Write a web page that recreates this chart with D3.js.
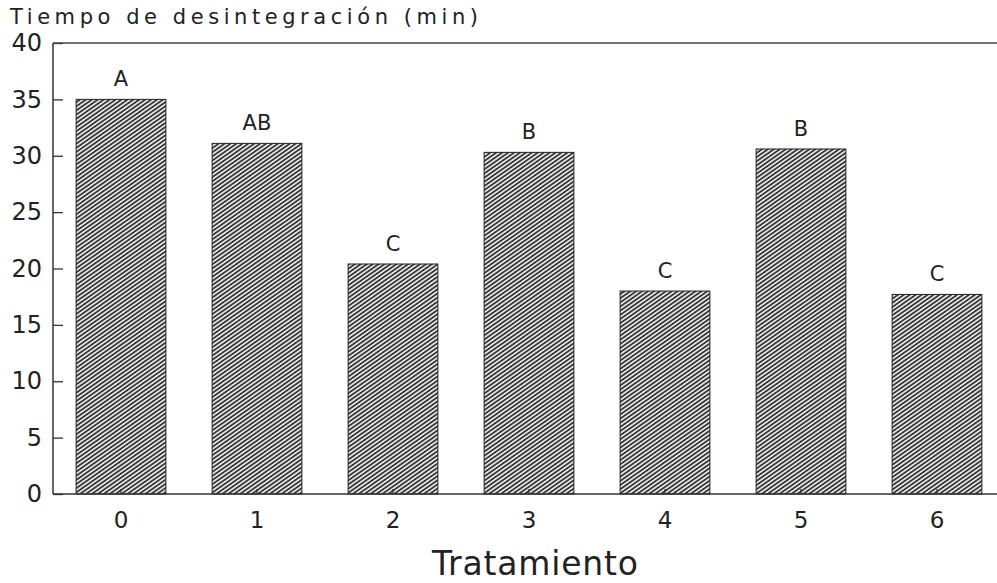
<!DOCTYPE html>
<html>
<head>
<meta charset="utf-8">
<script src="https://cdn.jsdelivr.net/npm/d3@7"></script>
<style>
  body { margin: 0; background: #fff; }
  svg { display: block; }
  text { font-family: "DejaVu Sans", "Liberation Sans", Arial, sans-serif; fill: #222; }
</style>
</head>
<body>
<div id="chart"></div>
<script>
// data
const tratamientos = ["0", "1", "2", "3", "4", "5", "6"];
const tiempos = [35.0, 31.1, 20.4, 30.3, 18.0, 30.6, 17.7];
const letras = ["A", "AB", "C", "B", "C", "B", "C"];
const yTicks = [0, 5, 10, 15, 20, 25, 30, 35, 40];

const width = 997;
const height = 583;
const margin = { top: 43, left: 53, right: 0, bottom: 89 };
const fontFam = "DejaVu Sans, Liberation Sans, Arial, sans-serif";

const svg = d3.select("#chart")
    .append("svg")
    .attr("width", width)
    .attr("height", height);

// hatch pattern for the bars
const defs = svg.append("defs");
const pattern = defs.append("pattern")
    .attr("id", "hatch")
    .attr("patternUnits", "userSpaceOnUse")
    .attr("width", 3.4)
    .attr("height", 3.4)
    .attr("patternTransform", "rotate(-35)");
pattern.append("rect")
    .attr("width", 3.4)
    .attr("height", 3.4)
    .attr("fill", "#e4e4e4");
pattern.append("line")
    .attr("x1", 0).attr("y1", 1.7)
    .attr("x2", 3.4).attr("y2", 1.7)
    .attr("stroke", "#2a2a2a")
    .attr("stroke-width", 1.6);

//scales
const xScale = d3.scaleBand()
    .domain(tratamientos)
    .range([margin.left, margin.left + 7 * 136])
    .paddingInner(0.34)
    .paddingOuter(0.17);

const yScale = d3.scaleLinear()
    .domain([0, 40])
    .range([height - margin.bottom, margin.top]);

// bars
svg.selectAll(".bar")
    .data(tiempos)
    .enter()
    .append("rect")
    .attr("class", "bar")
    .attr("x", (d, i) => xScale(tratamientos[i]))
    .attr("y", d => yScale(d))
    .attr("width", xScale.bandwidth())
    .attr("height", d => yScale(0) - yScale(d))
    .attr("fill", "url(#hatch)")
    .attr("stroke", "#222")
    .attr("stroke-width", 1);

// significance letters
svg.selectAll(".letra")
    .data(tiempos)
    .enter()
    .append("text")
    .attr("class", "letra")
    .attr("x", (d, i) => xScale(tratamientos[i]) + xScale.bandwidth() / 2)
    .attr("y", d => yScale(d) - 13)
    .attr("text-anchor", "middle")
    .attr("font-size", 21)
    .text((d, i) => letras[i]);

// axes
const yAxis = svg.append("g")
    .attr("transform", `translate(${margin.left},0)`)
    .call(d3.axisLeft(yScale).tickValues(yTicks).tickSizeInner(-10).tickSizeOuter(0).tickPadding(11));

const xAxis = svg.append("g")
    .attr("transform", `translate(0,${height - margin.bottom})`)
    .call(d3.axisBottom(xScale).tickSizeInner(-5).tickSizeOuter(0).tickPadding(18));

svg.selectAll(".domain").remove();
svg.selectAll(".tick line").attr("stroke", "#333").attr("stroke-width", 1.3);
yAxis.selectAll("text").attr("font-size", 24).attr("fill", "#222").attr("font-family", fontFam);
xAxis.selectAll("text").attr("font-size", 23).attr("fill", "#222").attr("font-family", fontFam);

// frame lines: left, bottom, top (open on the right)
svg.append("line")
    .attr("x1", margin.left).attr("x2", margin.left)
    .attr("y1", yScale(40)).attr("y2", yScale(0))
    .attr("stroke", "#333").attr("stroke-width", 1.5);
svg.append("line")
    .attr("x1", margin.left).attr("x2", width)
    .attr("y1", yScale(0)).attr("y2", yScale(0))
    .attr("stroke", "#333").attr("stroke-width", 1.5);
svg.append("line")
    .attr("x1", margin.left).attr("x2", width)
    .attr("y1", yScale(40)).attr("y2", yScale(40))
    .attr("stroke", "#444").attr("stroke-width", 1.3);

// titles
svg.append("text")
    .attr("x", 10)
    .attr("y", 24)
    .attr("font-size", 21)
    .attr("textLength", 468)
    .attr("lengthAdjust", "spacing")
    .text("Tiempo de desintegración (min)");

svg.append("text")
    .attr("x", 432)
    .attr("y", 575)
    .attr("font-size", 33)
    .attr("textLength", 206)
    .attr("lengthAdjust", "spacing")
    .text("Tratamiento");
</script>
</body>
</html>
